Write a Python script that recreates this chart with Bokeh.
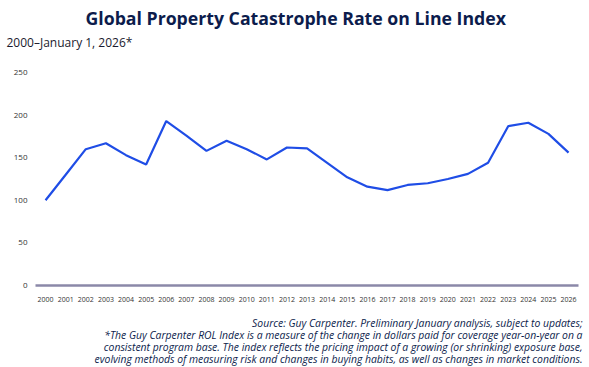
from bokeh.plotting import figure
from bokeh.models import FixedTicker, ColumnDataSource, Label
from bokeh.embed import file_html
from bokeh.resources import INLINE

years = list(range(2000, 2027))
rol_index = [100, 130, 160, 167, 153, 142, 193, 176, 158, 170, 160, 148, 162, 161,
             144, 127, 116, 112, 118, 120, 125, 131, 144, 187, 191, 178, 156]
y_ticks = [0, 50, 100, 150, 200, 250]

title_text = "Global Property Catastrophe Rate on Line Index"
subtitle_text = "2000\u2013January 1, 2026*"
footnote_lines = [
    "Source: Guy Carpenter. Preliminary January analysis, subject to updates;",
    "*The Guy Carpenter ROL Index is a measure of the change in dollars paid for coverage year-on-year on a",
    "consistent program base. The index reflects the pricing impact of a growing (or shrinking) exposure base,",
    "evolving methods of measuring risk and changes in buying habits, as well as changes in market conditions.",
]

NAVY = "#0c1c4c"
FONT = "Open Sans"

W, H = 589, 367
# plot area geometry (pixels): x from 35 to 578, y zero at 285, 0.852 px per unit
X0_PX, PX_PER_YEAR = 35, 20.115
Y0_PX, PX_PER_UNIT = 285, 0.852


def dx(px):
    return 1999.5 + (px - X0_PX) / PX_PER_YEAR


def dy(py):
    return (Y0_PX - py) / PX_PER_UNIT


p = figure(width=W, height=H, output_backend="svg", toolbar_location=None,
           x_range=(dx(0), dx(W)), y_range=(dy(H), dy(0)), min_border=0,
           title_location=None)
p.outline_line_color = None
p.background_fill_color = "white"
p.border_fill_color = "white"
p.xgrid.grid_line_color = None
p.ygrid.grid_line_color = None

src = ColumnDataSource(dict(year=years, value=rol_index))
p.line("year", "value", source=src, line_color="#1f4de6", line_width=2.2)

# x axis drawn at value 0
p.xaxis.fixed_location = 0
p.xaxis.bounds = (1999.5, 2026.5)
p.xaxis.ticker = FixedTicker(ticks=years)
p.xaxis.axis_line_color = "#8b88a8"
p.xaxis.axis_line_width = 2.5
p.xaxis.major_tick_line_color = None
p.xaxis.minor_tick_line_color = None
p.xaxis.major_label_text_font_size = "7px"
p.xaxis.major_label_text_font = FONT
p.xaxis.major_label_text_color = "#333333"
p.xaxis.major_label_standoff = 5

# y axis drawn at the left edge of the plot area
p.yaxis.fixed_location = 1999.5
p.yaxis.bounds = (0, 250)
p.yaxis.ticker = FixedTicker(ticks=y_ticks)
p.yaxis.axis_line_color = None
p.yaxis.major_tick_line_color = None
p.yaxis.minor_tick_line_color = None
p.yaxis.major_label_text_font_size = "8px"
p.yaxis.major_label_text_font = FONT
p.yaxis.major_label_text_color = "#333333"
p.yaxis.major_label_standoff = 2

p.add_layout(Label(x=dx(85), y=dy(17.5), text=title_text, text_font=FONT,
                   text_font_style="bold", text_font_size="17.7px", text_color=NAVY,
                   text_align="left", text_baseline="alphabetic"))
p.add_layout(Label(x=dx(6), y=dy(41.5), text=subtitle_text, text_font=FONT,
                   text_font_size="12px", text_color="#1a1a2e",
                   text_align="left", text_baseline="alphabetic"))

for i, line in enumerate(footnote_lines):
    p.add_layout(Label(x=dx(582), y=dy(322 + i * 12.2), text=line, text_font=FONT,
                       text_font_style="italic", text_font_size="10.4px", text_color=NAVY,
                       text_align="right", text_baseline="alphabetic"))

open("out.html", "w").write(file_html(p, INLINE))
